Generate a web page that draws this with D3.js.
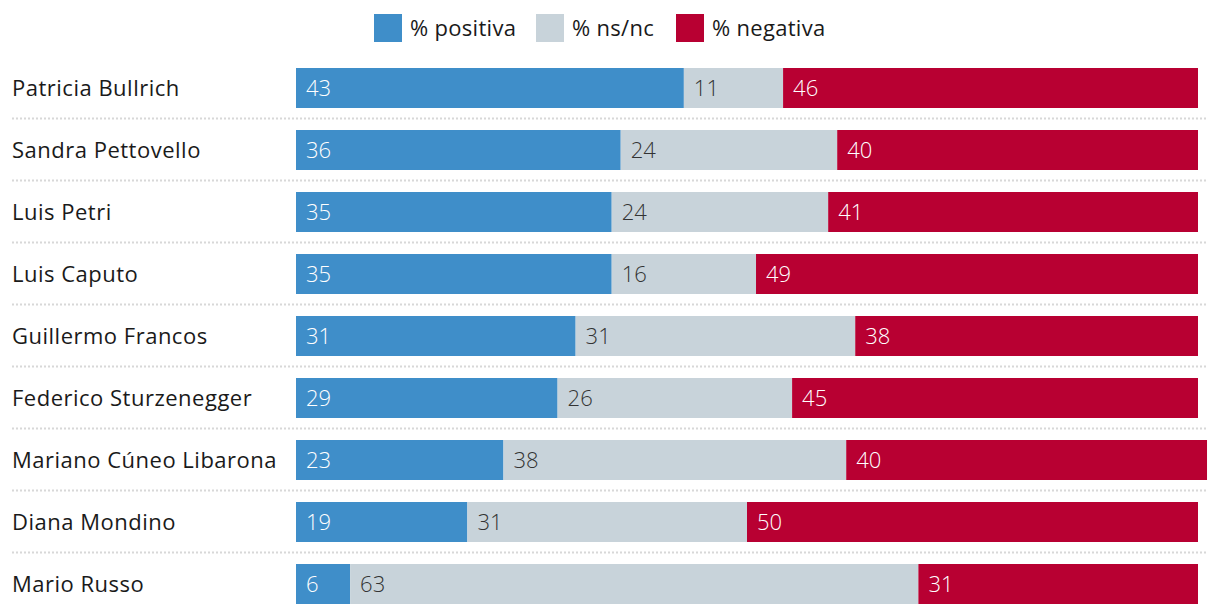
<!DOCTYPE html>
<html>
<head>
<meta charset="utf-8">
<script src="https://cdn.jsdelivr.net/npm/d3@7"></script>
<style>
  html, body { margin: 0; padding: 0; background: #fff; }
  svg { display: block; font-family: "Open Sans", Roboto, "Noto Sans", sans-serif; }
</style>
</head>
<body>
<svg id="chart" width="1220" height="616"></svg>
<script>
const names = ["Patricia Bullrich", "Sandra Pettovello", "Luis Petri", "Luis Caputo", "Guillermo Francos", "Federico Sturzenegger", "Mariano Cúneo Libarona", "Diana Mondino", "Mario Russo"];
const positiva = [43, 36, 35, 35, 31, 29, 23, 19, 6];
const nsnc = [11, 24, 24, 16, 31, 26, 38, 31, 63];
const negativa = [46, 40, 41, 49, 38, 45, 40, 50, 31];
const seriesKeys = ["positiva", "nsnc", "negativa"];
const seriesLabels = ["% positiva", "% ns/nc", "% negativa"];
const colors = ["#3f8ec9", "#c8d3da", "#b80032"];
const textColors = ["#ffffff", "#333333", "#ffffff"];

const rows = names.map((n, i) => ({ name: n, positiva: positiva[i], nsnc: nsnc[i], negativa: negativa[i] }));

const svg = d3.select("#chart");
const x = d3.scaleLinear().domain([0, 100]).range([296, 1198]);
const y = d3.scaleBand().domain(names).range([57, 615]).paddingInner(22 / 62).paddingOuter(11 / 62);

const stack = d3.stack().keys(seriesKeys);
const stacked = stack(rows);

// separators
svg.append("g").selectAll("line")
  .data(names.slice(0, -1))
  .join("line")
  .attr("x1", 12).attr("x2", 1208)
  .attr("y1", d => y(d) + y.bandwidth() + 10.5)
  .attr("y2", d => y(d) + y.bandwidth() + 10.5)
  .attr("stroke", "#d8d8d8")
  .attr("stroke-width", 2)
  .attr("stroke-dasharray", "2,2");

// row labels
svg.append("g").selectAll("text")
  .data(names)
  .join("text")
  .attr("x", 12)
  .attr("y", d => y(d) + y.bandwidth() / 2)
  .attr("dy", "0.35em")
  .attr("fill", "#1a1a1a")
  .attr("font-size", 22)
  .attr("letter-spacing", 0.5)
  .text(d => d);

// bars
const layers = svg.append("g").selectAll("g")
  .data(stacked)
  .join("g")
  .attr("fill", (d, i) => colors[i]);

layers.selectAll("rect")
  .data(d => d.map(v => ({ v, name: v.data.name })))
  .join("rect")
  .attr("x", d => x(d.v[0]))
  .attr("width", d => x(d.v[1]) - x(d.v[0]))
  .attr("y", d => y(d.name))
  .attr("height", y.bandwidth());

// values
stacked.forEach((layer, li) => {
  svg.append("g").selectAll("text")
    .data(layer)
    .join("text")
    .attr("x", d => x(d[0]) + 10)
    .attr("y", d => y(d.data.name) + y.bandwidth() / 2)
    .attr("dy", "0.35em")
    .attr("fill", textColors[li])
    .attr("font-size", 22)
    .attr("font-weight", 300)
    .text(d => d[1] - d[0]);
});

// legend
const legendX = [374, 536, 676];
const legend = svg.append("g").selectAll("g")
  .data(seriesLabels)
  .join("g")
  .attr("transform", (d, i) => `translate(${legendX[i]},14)`);
legend.append("rect")
  .attr("width", 28).attr("height", 28)
  .attr("fill", (d, i) => colors[i]);
legend.append("text")
  .attr("x", 36).attr("y", 14).attr("dy", "0.35em")
  .attr("font-size", 22)
  .attr("letter-spacing", 0.3)
  .attr("fill", "#1a1a1a")
  .text(d => d);
</script>
</body>
</html>
